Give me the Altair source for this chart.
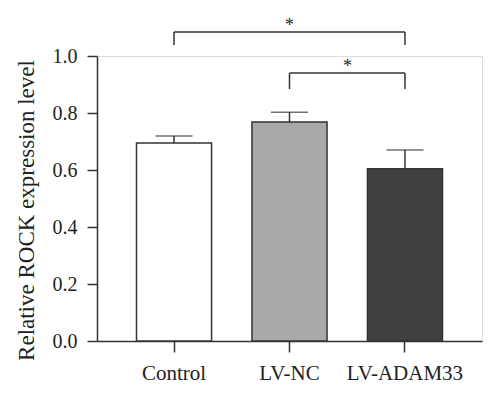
import altair as alt
import pandas as pd

# ---- data ----
categories = ["Control", "LV-NC", "LV-ADAM33"]
means = [0.695, 0.768, 0.604]
err_upper = [0.719, 0.803, 0.670]
fills = ["#ffffff", "#a9a9a9", "#404040"]

# significance brackets: (start group, end group, bracket top, leg bottom)
br_start = ["Control", "LV-NC"]
br_end = ["LV-ADAM33", "LV-ADAM33"]
br_top = [1.084, 0.940]
br_leg = [1.039, 0.884]
star_group = ["LV-NC", "LV-NC"]
star_y = [1.105, 0.96]
star_dx = [0, 58]
star_text = ["*", "*"]

FONT = "Liberation Serif"
INK = "#333333"

bars_df = pd.DataFrame({"group": categories, "mean": means, "upper": err_upper, "fill": fills})
br_df = pd.DataFrame({"g1": br_start, "g2": br_end, "top": br_top, "leg": br_leg})
legs_df = pd.DataFrame({
    "g": br_start + br_end,
    "top": br_top + br_top,
    "leg": br_leg + br_leg,
})

xscale = alt.Scale(domain=categories, paddingInner=0.35, paddingOuter=0.342)
yscale = alt.Scale(domain=[0, 1], nice=False)

x_axis = alt.Axis(
    title=None, labelFont=FONT, labelFontSize=21, labelColor="#222222",
    labelAngle=0, tickSize=11, tickColor=INK, tickWidth=1.5,
    domainColor=INK, domainWidth=1.5, labelPadding=10, grid=False,
)
y_axis = alt.Axis(
    title="Relative ROCK expression level", values=[0, 0.2, 0.4, 0.6, 0.8, 1.0],
    format=".1f", labelFont=FONT, labelFontSize=20, labelColor="#222222",
    tickSize=10, tickColor=INK, tickWidth=1.5, domainColor=INK, domainWidth=1.5,
    labelPadding=10, grid=False, titleFont=FONT, titleFontSize=23,
    titleFontWeight="normal", titleColor="#222222", titleX=-59, titleY=154,
    titleAngle=270, titleBaseline="bottom", titleAlign="center",
)

bars = alt.Chart(bars_df).mark_bar(stroke=INK, strokeWidth=1.5).encode(
    x=alt.X("group:N", scale=xscale, axis=x_axis, sort=categories),
    y=alt.Y("mean:Q", scale=yscale, axis=y_axis),
    fill=alt.Fill("fill:N", scale=None),
)

err_stem = alt.Chart(bars_df).mark_rule(color=INK, strokeWidth=1.5).encode(
    x=alt.X("group:N", sort=categories), y="mean:Q", y2="upper:Q"
)
err_cap = alt.Chart(bars_df).mark_tick(color=INK, thickness=1.5, size=37).encode(
    x=alt.X("group:N", sort=categories), y="upper:Q"
)

br_h = alt.Chart(br_df).mark_rule(color=INK, strokeWidth=1.5).encode(
    x=alt.X("g1:N"), x2="g2:N", y="top:Q"
)
br_v = alt.Chart(legs_df).mark_rule(color=INK, strokeWidth=1.5).encode(
    x=alt.X("g:N"), y="leg:Q", y2="top:Q"
)

stars_df = pd.DataFrame({"g": star_group, "y": star_y, "t": star_text, "dx": star_dx})
stars = []
for i in range(len(stars_df)):
    stars.append(
        alt.Chart(stars_df.iloc[[i]]).mark_text(
            font=FONT, fontSize=18, color="#222222", baseline="middle", dx=int(star_dx[i])
        ).encode(x=alt.X("g:N"), y="y:Q", text="t:N")
    )

chart = alt.layer(bars, err_stem, err_cap, br_h, br_v, *stars).properties(
    width=385, height=285,
    autosize=alt.AutoSizeParams(type="none"),
    padding={"left": 89, "top": 48, "right": 10, "bottom": 45},
).configure_view(stroke=None).configure(background="white")

chart.save("out.html", embed_options={"renderer": "svg", "actions": False})
